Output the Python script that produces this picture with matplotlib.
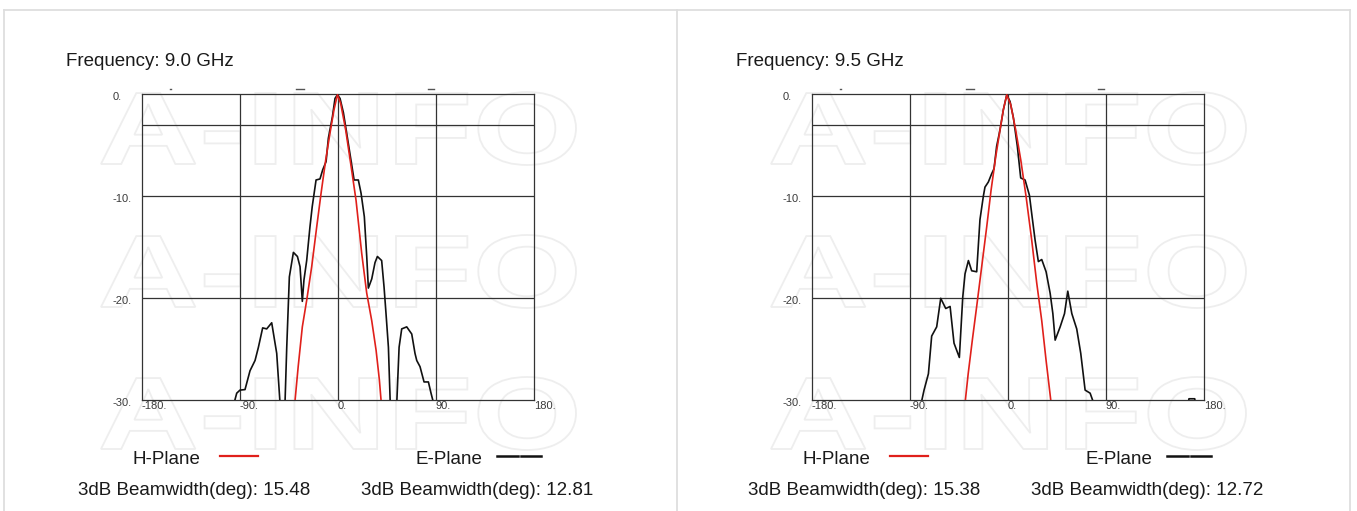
import matplotlib
matplotlib.use("Agg")
import matplotlib.pyplot as plt
from matplotlib.lines import Line2D
from matplotlib.patches import PathPatch
from matplotlib.textpath import TextPath
from matplotlib.font_manager import FontProperties
from matplotlib.transforms import Affine2D, ScaledTranslation

W, H = 1357, 511
plt.rcParams['font.family'] = ['Liberation Sans', 'DejaVu Sans']

# ---------------- data ----------------
freq_labels = ["Frequency: 9.0 GHz", "Frequency: 9.5 GHz"]
h_beamwidth = ["15.48", "15.38"]
e_beamwidth = ["12.81", "12.72"]

xticks = [-180, -90, 0, 90, 180]
xtick_labels = ["-180.", "-90.", "0.", "90.", "180."]
yticks = [0, -10, -20, -30]
ytick_labels = ["0.", "-10.", "-20.", "-30."]
grid_x = [-90, 0, 90]
grid_y = [-3, -10, -20]

# 9.0 GHz
ang_e_90 = [-97.0, -92.8, -89.8, -85.2, -80.6, -76.0, -72.9, -69.0, -65.3, -60.7, -56.1, -52.0,
            -49.0, -46.9, -44.5, -40.8, -37.1, -34.7, -32.6, -31.1, -28.6, -25.6, -23.5, -20.0,
            -16.4, -13.9, -10.8, -8.7, -5.0, -2.6, -0.4, 2.0, 5.1, 8.7, 12.7, 14.9, 18.8, 21.3,
            24.3, 26.5, 28.0, 31.1, 34.1, 36.3, 40.2, 42.4, 44.2, 46.4, 48.6, 53.4, 56.2, 58.6,
            63.2, 67.8, 70.8, 72.4, 75.4, 79.1, 83.1, 85.5, 88.6]
e_90 = [-31.0, -29.3, -29.0, -28.95, -27.1, -26.1, -24.8, -22.9, -23.0, -22.4, -25.4, -32.0,
        -32.0, -24.8, -17.9, -15.5, -15.9, -16.9, -20.3, -18.2, -16.3, -13.0, -11.0, -8.4,
        -8.3, -7.4, -6.6, -4.3, -2.2, -0.4, -0.05, -0.4, -1.8, -4.2, -6.9, -8.4, -8.4, -9.7,
        -12.0, -15.9, -19.0, -18.1, -16.5, -15.9, -16.3, -18.9, -21.5, -24.8, -32.0, -32.0, -24.8, -23.0,
        -22.8, -23.5, -25.4, -26.1, -26.7, -28.2, -28.2, -29.3, -30.6]
ang_h_90 = [-41.0, -36.4, -32.6, -28.6, -24.0, -19.4, -15.4, -11.1, -7.2, -3.5, -0.4, 2.6, 7.2,
            11.8, 16.7, 21.9, 26.5, 31.1, 35.1, 38.1, 41.2]
h_90 = [-32.0, -26.7, -22.8, -20.2, -16.9, -13.0, -9.7, -6.4, -3.8, -1.5, -0.05, -0.9, -3.5,
        -6.8, -10.4, -15.6, -19.5, -22.2, -25.1, -28.0, -32.0]

# 9.5 GHz
ang_e_95 = [-82.0, -76.9, -72.9, -69.9, -65.3, -61.6, -57.0, -53.0, -49.4, -44.5, -41.4, -39.3,
            -36.2, -33.2, -28.6, -25.6, -22.5, -21.0, -17.9, -14.9, -12.7, -10.3, -7.2, -4.1,
            -1.0, 2.0, 5.1, 8.7, 11.8, 15.8, 19.8, 21.9, 25.0, 28.0, 31.1, 35.1, 38.8, 41.3,
            43.4, 48.0, 52.0, 55.0, 58.7, 63.2, 66.9, 70.9, 75.5, 80.5, None,
            164.5, 166.2, 171.5, 173.0]
e_95 = [-31.5, -29.0, -27.4, -23.7, -22.8, -20.0, -21.0, -20.8, -24.4, -25.8, -19.9, -17.6,
        -16.3, -17.3, -17.4, -12.3, -10.0, -9.1, -8.6, -7.8, -7.3, -5.1, -3.5, -1.5,
        -0.05, -0.7, -2.3, -5.1, -8.2, -8.4, -9.9, -11.7, -14.3, -16.4, -16.2, -17.4, -19.5, -21.5,
        -24.1, -22.8, -21.5, -19.3, -21.5, -23.0, -25.4, -29.0, -29.3, -30.8, None,
        -31.0, -29.85, -29.85, -31.0]
ang_h_95 = [-41.0, -36.4, -32.6, -28.6, -24.0, -19.4, -15.4, -11.1, -7.2, -4.1, -1.0, 2.6, 7.2,
            11.8, 16.7, 21.9, 26.5, 31.1, 35.1, 40.5]
h_95 = [-32.0, -27.4, -24.1, -20.8, -16.9, -13.0, -9.4, -6.1, -3.5, -1.5, -0.05, -1.0, -3.5,
        -6.4, -10.0, -14.3, -18.5, -22.2, -26.1, -31.0]

panels = [
    (ang_h_90, h_90, ang_e_90, e_90),
    (ang_h_95, h_95, ang_e_95, e_95),
]

# ---------------- figure ----------------
fig = plt.figure(figsize=(W / 100, H / 100), dpi=100)
fig.patch.set_facecolor("white")


def fx(x):
    return x / W


def fy(y):
    return 1 - y / H


def add_line(xs, ys, **kw):
    ln = Line2D([fx(v) for v in xs], [fy(v) for v in ys], transform=fig.transFigure, **kw)
    fig.add_artist(ln)


# page borders
bcol = "#dedede"
add_line([3.5, 1349.5], [10.5, 10.5], color=bcol, lw=1.3)
add_line([3.5, 3.5], [10.5, 511], color=bcol, lw=1.3)
add_line([676.7, 676.7], [10.5, 511], color=bcol, lw=1.3)
add_line([1349.5, 1349.5], [10.5, 511], color=bcol, lw=1.3)

# watermark
fp = FontProperties(family="Liberation Sans", weight="bold")
tp = TextPath((0, 0), "A-INFO", size=100, prop=fp)
ext = tp.get_extents()
sx = 475 / ext.width
sy = 73 / ext.height
for off in [0, 670]:
    for ybot in [165, 308, 450]:
        tr = (Affine2D().translate(-ext.x0, -ext.y0).scale(sx, sy)
              .translate(101 + off, H - ybot))
        patch = PathPatch(tp, transform=tr, facecolor="none", edgecolor="#eeeeee",
                          lw=1.3, zorder=0)
        fig.add_artist(patch)

ax_left0 = 141.7
ax_w = 392.3
ax_top = 94.3
ax_bot = 400.3
tick_col = "#3a3a3a"
grid_col = "#333333"

for i, (ah, hv, ae, ev) in enumerate(panels):
    off = 670 * i
    ax = fig.add_axes([fx(ax_left0 + off), fy(ax_bot), ax_w / W, (ax_bot - ax_top) / H])
    ax.patch.set_alpha(0)
    ax.set_xlim(-180, 180)
    ax.set_ylim(-30, 0)
    for gx in grid_x:
        ax.axvline(gx, color=grid_col, lw=0.9, zorder=1)
    for gy in grid_y:
        ax.axhline(gy, color=grid_col, lw=0.9, zorder=1)
    for s in ax.spines.values():
        s.set_color(grid_col)
        s.set_linewidth(0.9)

    e_x = [v if v is not None else float("nan") for v in ae]
    e_y = [v if v is not None else float("nan") for v in ev]
    ax.plot(e_x, e_y, color="#111111", lw=1.2, zorder=3)
    ax.plot(ah, hv, color="#e0201b", lw=1.2, zorder=4)

    ax.set_xticks(xticks, xtick_labels)
    ax.set_yticks(yticks, ytick_labels)
    ax.tick_params(axis="x", length=0, pad=0.6, labelsize=8, labelcolor=tick_col)
    ax.tick_params(axis="y", length=0, pad=20.7, labelsize=8, labelcolor=tick_col)
    for lab in ax.get_xticklabels():
        lab.set_ha("left")
    down = ScaledTranslation(0, -2 / 100, fig.dpi_scale_trans)
    for lab in ax.get_yticklabels():
        lab.set_ha("left")
        lab.set_transform(lab.get_transform() + down)

    # small marks above plot
    add_line([169.5 + off, 170.5 + off], [89, 89], color="#555555", lw=1.0)
    add_line([296 + off, 304 + off], [89, 89], color="#555555", lw=1.0)
    add_line([428 + off, 434 + off], [89, 89], color="#555555", lw=1.0)

    # texts
    fig.text(fx(66 + off), fy(66.5), freq_labels[i], fontsize=13.5, color="#1a1a1a",
             ha="left", va="baseline")
    fig.text(fx(132 + off), fy(463.5), "H-Plane", fontsize=13.5, color="#1a1a1a",
             ha="left", va="baseline")
    add_line([220 + off, 258 + off], [456, 456], color="#e0201b", lw=1.6)
    fig.text(fx(415.5 + off), fy(463.5), "E-Plane", fontsize=13.5, color="#1a1a1a",
             ha="left", va="baseline")
    add_line([497 + off, 518 + off], [456, 456], color="#111111", lw=1.8)
    add_line([521 + off, 541 + off], [456, 456], color="#111111", lw=1.8)
    fig.text(fx(77.5 + off), fy(495), "3dB Beamwidth(deg): " + h_beamwidth[i], fontsize=13.5,
             color="#1a1a1a", ha="left", va="baseline")
    fig.text(fx(361 + off), fy(495), "3dB Beamwidth(deg): " + e_beamwidth[i], fontsize=13.5,
             color="#1a1a1a", ha="left", va="baseline")

fig.savefig("out.png", dpi=100)
